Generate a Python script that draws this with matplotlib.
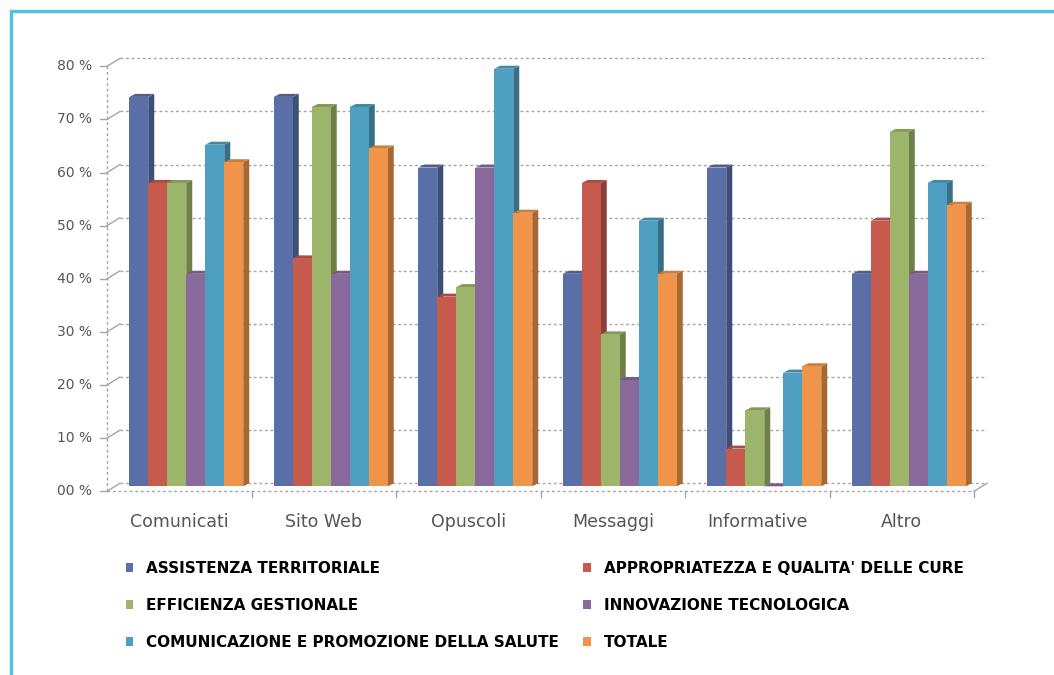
import numpy as np
import matplotlib
matplotlib.use("Agg")
import matplotlib.pyplot as plt
from matplotlib.patches import Polygon, Rectangle
import matplotlib.colors as mcolors

# ---- data -------------------------------------------------------------
categories = ["Comunicati", "Sito Web", "Opuscoli", "Messaggi", "Informative", "Altro"]

assistenza_territoriale = [73.3, 73.3, 60.0, 40.0, 60.0, 40.0]
appropriatezza_cure = [57.1, 42.9, 35.7, 57.1, 7.1, 50.0]
efficienza_gestionale = [57.1, 71.4, 37.5, 28.6, 14.3, 66.7]
innovazione_tecnologica = [40.0, 40.0, 60.0, 20.0, 0.0, 40.0]
comunicazione_salute = [64.3, 71.4, 78.6, 50.0, 21.4, 57.1]
totale = [61.0, 63.6, 51.5, 40.0, 22.6, 53.0]

series_names = [
    "ASSISTENZA TERRITORIALE",
    "APPROPRIATEZZA E QUALITA' DELLE CURE",
    "EFFICIENZA GESTIONALE",
    "INNOVAZIONE TECNOLOGICA",
    "COMUNICAZIONE E PROMOZIONE DELLA SALUTE",
    "TOTALE",
]
series_values = [
    assistenza_territoriale,
    appropriatezza_cure,
    efficienza_gestionale,
    innovazione_tecnologica,
    comunicazione_salute,
    totale,
]
series_colors = ["#5a6fa8", "#c65a4c", "#9db56a", "#8a6a9c", "#4f9fc0", "#f0944a"]

y_ticks = [0, 10, 20, 30, 40, 50, 60, 70, 80]
y_tick_labels = ["00 %", "10 %", "20 %", "30 %", "40 %", "50 %", "60 %", "70 %", "80 %"]

# ---- figure / axes geometry ------------------------------------------
W, H = 1054, 675
fig = plt.figure(figsize=(W / 100, H / 100), dpi=100)
fig.patch.set_facecolor("white")

ax_left_px, ax_right_px = 60, 1000
ax_top_px, ax_bottom_px = 50, 500
ax = fig.add_axes([ax_left_px / W, 1 - ax_bottom_px / H,
                   (ax_right_px - ax_left_px) / W,
                   (ax_bottom_px - ax_top_px) / H])

px_per_cat = 144.5      # one category slot on the back wall
px_per_pct = 5.3125     # one percentage point
wall_left_px = 120
zero_px = 483.3
ax.set_xlim((ax_left_px - wall_left_px) / px_per_cat - 0.5,
            (ax_right_px - wall_left_px) / px_per_cat - 0.5)
ax.set_ylim((zero_px - ax_bottom_px) / px_per_pct,
            (zero_px - ax_top_px) / px_per_pct)
ax.axis("off")

n_cat = len(categories)
n_ser = len(series_values)

# depth of the whole chart (front plane vs back wall) and of each bar
FX, FY = 13 / px_per_cat, 8 / px_per_pct
DX, DY = 6 / px_per_cat, 3 / px_per_pct
BW = 19 / px_per_cat

grid_kw = dict(color="#a5a5a5", lw=1.0, ls=(0, (2, 2)), zorder=1, clip_on=False)

# back wall gridlines and diagonal connectors to the front axis
for t in y_ticks:
    ax.plot([-0.5, n_cat - 0.5], [t, t], **grid_kw)
    ax.plot([-0.5 - FX, -0.5], [t - FY, t], color="#a5a5a5", lw=1.0, zorder=1, clip_on=False)

# front value axis with ticks and labels
ax.plot([-0.5 - FX] * 2, [-FY, y_ticks[-1] - FY], **grid_kw)
for t, lab in zip(y_ticks, y_tick_labels):
    ax.plot([-0.5 - FX - 0.045, -0.5 - FX], [t - FY] * 2, color="#a5a5a5", lw=1.0, clip_on=False)
    ax.text(-0.5 - FX - 0.103, t - FY, lab, ha="right", va="center",
            fontsize=10, color="#555555")

# front floor edge with category boundary ticks
ax.plot([-0.5 - FX, n_cat - 0.5 - FX], [-FY, -FY], **grid_kw)
ax.plot([n_cat - 0.5 - FX, n_cat - 0.5], [-FY, 0], color="#a5a5a5", lw=1.0, clip_on=False)
for i in range(1, n_cat + 1):
    ax.plot([i - 0.5 - FX] * 2, [-FY, -FY - 1.0], color="#a5a5a5", lw=1.0, clip_on=False)

# category labels
for i, cat in enumerate(categories):
    ax.text(i - FX, -7.2, cat, ha="center", va="center", fontsize=12.5, color="#555555")


def shade(color, f):
    r, g, b = mcolors.to_rgb(color)
    return (r * f, g * f, b * f)


# pseudo-3D columns: front face, top cap and right side
bar_handles = []
x_base = np.arange(n_cat)
for j, (vals, col) in enumerate(zip(series_values, series_colors)):
    pos = x_base + (j - (n_ser - 1) / 2) * BW - DX
    bars = ax.bar(pos, vals, width=BW, bottom=-DY, color=col, linewidth=0,
                  zorder=4 + 2 * j)
    bar_handles.append(bars)
    for p, v in zip(pos, vals):
        xl, xr = p - BW / 2, p + BW / 2
        side = Polygon([(xr, -DY), (xr, v - DY), (xr + DX, v), (xr + DX, 0)],
                       closed=True, facecolor=shade(col, 0.7), edgecolor="none",
                       zorder=3 + 2 * j)
        cap = Polygon([(xl, v - DY), (xr, v - DY), (xr + DX, v), (xl + DX, v)],
                      closed=True, facecolor=shade(col, 0.85), edgecolor="none",
                      zorder=3 + 2 * j)
        ax.add_patch(side)
        ax.add_patch(cap)

# legend, two columns filled row by row
order = [0, 2, 4, 1, 3, 5]
fig.legend([bar_handles[k] for k in order], [series_names[k] for k in order],
           ncol=2, loc="upper left", bbox_to_anchor=(112 / W, 1 - 547 / H),
           bbox_transform=fig.transFigure, frameon=False,
           handlelength=0.5, handleheight=0.5, handletextpad=0.85,
           columnspacing=1.55, labelspacing=1.45,
           prop=dict(weight="bold", size=11))

# light-blue frame around the chart
fig.patches.append(Rectangle((11 / W, -0.5), 2.0, 0.5 + (H - 11) / H,
                             transform=fig.transFigure, fill=False,
                             edgecolor="#5bbfe0", linewidth=2.5))

fig.savefig("out.png", dpi=100, facecolor="white")
